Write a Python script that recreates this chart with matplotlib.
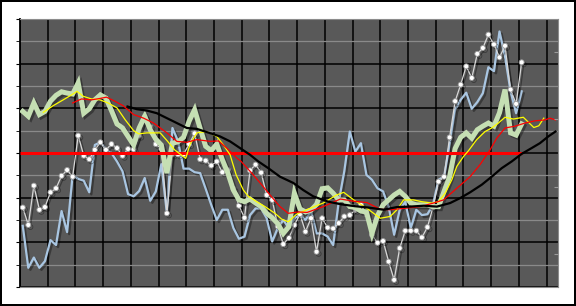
import numpy as np
import matplotlib
matplotlib.use('Agg')
import matplotlib.pyplot as plt
import matplotlib.patheffects as pe
from matplotlib.ticker import MultipleLocator

# --- data (91 periods) ---
white_vals = [1.78, 1.39, 2.27, 1.73, 1.79, 2.12, 2.21, 2.49, 2.62, 2.47,
              3.39, 2.94, 2.86, 3.07, 3.24, 3.07, 3.20, 3.11, 2.94, 3.09,
              3.08, 3.39, 3.81, 3.59, 3.20, 3.09, 1.65, 2.97, 2.97, 2.97,
              3.20, 3.44, 2.86, 2.83, 2.72, 2.81, 2.57, 2.62, 2.20, 1.82,
              1.55, 2.61, 2.74, 2.56, 2.06, 1.95, 1.36, 0.96, 1.10, 1.39,
              1.63, 1.24, 1.54, 0.79, 1.54, 1.33, 1.31, 1.43, 1.58, 1.61,
              1.73, 1.84, 1.63, 1.17, 0.99, 1.03, 0.57, 0.16, 0.87, 1.26,
              1.26, 1.26, 1.11, 1.34, 1.78, 2.36, 2.47, 3.35, 4.16, 4.53,
              4.94, 4.68, 5.22, 5.35, 5.65, 5.43, 5.14, 5.40, 4.42, 4.10,
              5.03]
blue_vals = [1.37, 0.43, 0.66, 0.43, 0.58, 1.05, 0.94, 1.70, 1.23, 2.51,
             2.42, 2.38, 2.12, 3.18, 3.24, 3.09, 3.00, 2.81, 2.59, 2.08,
             2.03, 2.15, 2.44, 1.93, 2.14, 2.75, 1.65, 3.56, 3.27, 2.65,
             2.65, 2.57, 2.55, 2.20, 1.84, 1.50, 1.73, 1.73, 1.32, 1.08,
             1.13, 1.61, 1.76, 1.76, 1.54, 1.02, 1.32, 1.50, 1.32, 1.54,
             1.61, 1.50, 1.70, 1.20, 1.20, 1.13, 0.94, 1.91, 2.59, 3.48,
             3.03, 3.22, 2.51, 2.40, 2.21, 2.14, 1.80, 1.17, 1.73, 1.91,
             1.32, 1.73, 1.61, 1.63, 1.84, 2.40, 2.47, 3.18, 3.97, 4.19,
             4.35, 3.99, 4.14, 4.34, 4.92, 4.83, 5.72, 5.16, 4.38, 3.89,
             4.38]
green_vals = [3.93, 3.82, 4.12, 3.86, 3.93, 4.16, 4.29, 4.37, 4.34, 4.32,
              4.57, 3.89, 3.99, 4.19, 4.30, 4.23, 3.95, 3.65, 3.56, 3.37,
              3.18, 3.56, 3.82, 3.52, 3.31, 3.18, 2.55, 3.22, 3.25, 3.35,
              3.71, 3.97, 3.55, 3.15, 3.05, 3.20, 2.85, 2.55, 2.17, 1.95,
              1.91, 1.97, 1.88, 1.80, 1.65, 1.55, 1.42, 1.20, 1.35, 2.10,
              1.75, 1.68, 1.72, 1.85, 2.20, 2.22, 2.10, 1.95, 1.95, 1.80,
              1.78, 1.70, 1.68, 1.20, 1.60, 1.84, 1.95, 2.06, 2.14, 2.03,
              1.88, 1.84, 1.84, 1.84, 1.80, 1.80, 2.14, 2.47, 3.10, 3.35,
              3.45, 3.33, 3.52, 3.60, 3.67, 3.60, 3.90, 4.42, 3.45, 3.40,
              3.65]

# smooth lines, sampled along the axis
yellow_x = [4.2, 6.0, 7.8, 9.3, 10.3, 11.4, 12.9, 14.4, 15.9, 17.5, 19.0,
            20.5, 21.4, 22.9, 25.3, 26.5, 27.9, 29.9, 30.7, 31.9, 33.7,
            35.5, 36.7, 37.9, 39.0, 40.3, 41.2, 42.7, 44.2, 46.0, 47.2,
            48.4, 49.9, 52.3, 54.7, 57.1, 58.4, 60.2, 62.6, 65.0, 66.8,
            68.0, 69.2, 71.0, 72.5, 74.3, 75.5, 76.7, 77.9, 78.8, 80.0,
            80.9, 82.4, 83.9, 85.1, 86.3, 87.5, 89.0, 90.8, 92.7, 93.6, 94.5]
yellow_y = [3.91, 4.06, 4.19, 4.30, 4.38, 4.27, 4.21, 4.19, 4.12, 4.01, 3.74,
            3.50, 3.43, 3.45, 3.45, 3.28, 3.07, 2.88, 3.20, 3.45, 3.48,
            3.37, 3.18, 2.96, 2.51, 2.17, 2.03, 1.91, 1.80, 1.65, 1.52,
            1.46, 1.63, 1.76, 1.88, 2.06, 2.12, 1.95, 1.76, 1.54, 1.58,
            1.73, 1.95, 1.95, 1.91, 1.88, 1.91, 2.10, 2.40, 2.70, 2.92,
            3.05, 3.30, 3.48, 3.56, 3.67, 3.80, 3.76, 3.80, 3.57, 3.61, 3.78]
red_x = [9.5, 11.1, 12.9, 14.4, 15.6, 17.1, 18.6, 20.5, 22.3, 24.1, 26.5,
         28.3, 30.1, 31.9, 34.3, 35.8, 37.3, 39.1, 39.9, 41.8, 43.6, 45.1,
         46.9, 48.4, 50.2, 51.8, 54.7, 57.8, 60.2, 62.6, 65.0, 66.8, 69.2,
         72.2, 74.6, 76.4, 78.8, 81.2, 83.0, 84.8, 86.0, 87.5, 89.3, 91.1,
         92.9, 94.7, 95.6, 96.6]
red_y = [4.12, 4.21, 4.19, 4.22, 4.25, 4.16, 4.06, 3.86, 3.78, 3.67, 3.45,
         3.26, 3.24, 3.30, 3.26, 3.27, 3.11, 2.89, 2.81, 2.55, 2.29, 2.06,
         1.80, 1.65, 1.68, 1.67, 1.80, 1.97, 1.92, 1.89, 1.74, 1.73, 1.76,
         1.80, 1.88, 1.95, 2.21, 2.47, 2.74, 3.07, 3.33, 3.56, 3.60, 3.67,
         3.72, 3.74, 3.78, 3.74]
black_x = [19.4, 21.1, 22.9, 24.7, 26.5, 28.3, 30.1, 31.9, 33.9, 36.1, 37.9,
           39.7, 41.5, 43.0, 44.8, 46.9, 49.3, 51.1, 52.9, 55.6, 58.0, 60.4,
           62.8, 65.6, 68.0, 70.4, 72.8, 75.2, 77.6, 79.4, 81.2, 83.3, 85.1,
           86.9, 88.7, 90.5, 92.3, 93.8, 95.3, 96.6]
black_y = [4.04, 3.98, 3.95, 3.89, 3.78, 3.67, 3.56, 3.54, 3.46, 3.37, 3.26,
           3.11, 2.96, 2.81, 2.66, 2.47, 2.33, 2.17, 2.03, 1.91, 1.85, 1.81,
           1.78, 1.73, 1.79, 1.80, 1.82, 1.80, 1.88, 1.99, 2.12, 2.29, 2.47,
           2.66, 2.81, 2.98, 3.11, 3.22, 3.37, 3.48]
ref_level = 3.0

n = len(white_vals)
x = np.arange(n) + 0.5

fig = plt.figure(figsize=(5.76, 3.06), dpi=100, facecolor='white',
                 edgecolor='black', linewidth=1.5)
ax = fig.add_axes([0.0347, 0.062, 0.9335, 0.876])
ax.set_facecolor('#595959')
ax.set_xlim(0, 97)
ax.set_ylim(0, 6)

ax.xaxis.set_major_locator(MultipleLocator(5))
ax.yaxis.set_major_locator(MultipleLocator(1))
ax.yaxis.set_minor_locator(MultipleLocator(0.5))
ax.grid(which='major', axis='both', color='black', linewidth=1.1)
ax.grid(which='minor', axis='y', color='#8a8a8a', linewidth=0.9)
ax.set_axisbelow(True)
ax.tick_params(axis='x', length=0, labelbottom=False)
ax.tick_params(axis='y', which='both', length=3, direction='out',
               color='black', labelleft=False)
for side in ['top', 'right', 'bottom']:
    ax.spines[side].set_color('#8c8c8c')
ax.spines['left'].set_color('black')
ax.spines['left'].set_linewidth(1.3)

ax2 = ax.twinx()
ax2.set_ylim(-0.5, 3.5)
ax2.set_yticks([0, 1, 2, 3])
ax2.tick_params(axis='y', length=3, direction='in', color='#9a9a9a',
                labelright=False)
ax2.spines['right'].set_visible(False)
for side in ['top', 'left', 'bottom']:
    ax2.spines[side].set_visible(False)

shadow = [pe.SimpleLineShadow(offset=(1.5, -1.5), shadow_color='black',
                              alpha=0.35), pe.Normal()]

ax.plot(x, blue_vals, color='#a9c6e2', linewidth=1.6, zorder=3,
        path_effects=shadow)
ax.plot(x, white_vals, color='#d8d8d8', linewidth=0.9, marker='o',
        markersize=3.6, markerfacecolor='white', markeredgecolor='#9a9a9a',
        markeredgewidth=0.6, zorder=4, path_effects=shadow)
ax.plot(x, green_vals, color='#c5dfb3', linewidth=3.6, zorder=5,
        solid_joinstyle='miter', path_effects=shadow)
ax.hlines(ref_level, 0, x[-1], color='#ff0000', linewidth=2.2, zorder=6)
ax.plot(yellow_x, yellow_y, color='#ffff00', linewidth=0.9, zorder=7)
ax.plot(red_x, red_y, color='#ff0000', linewidth=0.9, zorder=8)
ax.plot(black_x, black_y, color='black', linewidth=1.6, zorder=9)

fig.savefig('out.png', dpi=100, facecolor='white', edgecolor='black')
